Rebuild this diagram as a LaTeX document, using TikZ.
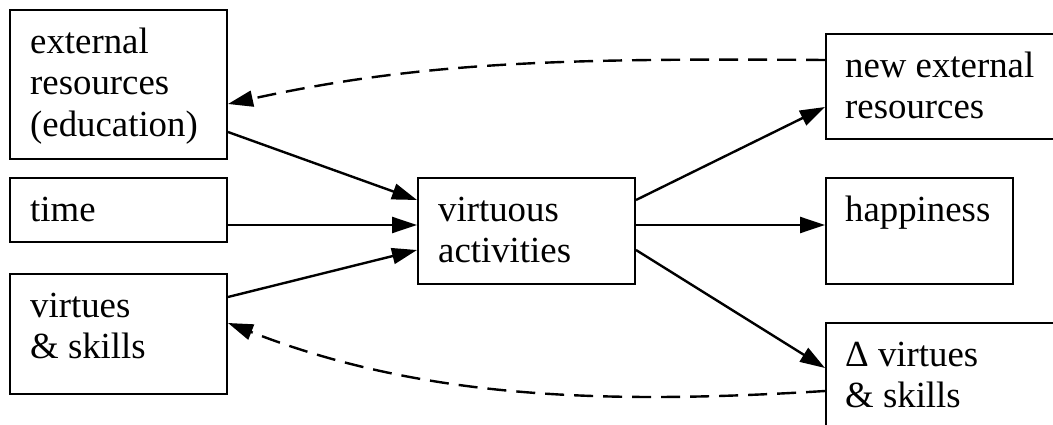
\documentclass[tikz,border=0pt]{standalone}
\usepackage{fontspec}
\setmainfont{Liberation Serif}
\usetikzlibrary{arrows.meta,calc}
\newcommand{\lbfont}{\fontsize{36.8}{41.5}\selectfont}
\newcommand{\fst}{\rule{0pt}{44pt}}
\begin{document}
\begin{tikzpicture}[x=1pt,y=-1pt,
  box/.style={draw, line width=2pt, inner sep=0pt, anchor=north west},
  lbl/.style={anchor=north west, inner sep=0pt, align=left, font=\lbfont},
  conn/.style={line width=2.4pt, -{Triangle[length=25pt,width=16pt]}},
  fb/.style={conn, dash pattern=on 19pt off 10pt}]
\useasboundingbox (0,0) rectangle (1053,425);
\clip (0,0) rectangle (1053,425);
% boxes
\node[box, minimum width=217pt, minimum height=149pt] (ext) at (9,9) {};
\node[box, minimum width=217pt, minimum height=64pt] (time) at (9,177) {};
\node[box, minimum width=217pt, minimum height=120pt] (vs) at (9,273) {};
\node[box, minimum width=217pt, minimum height=106pt] (va) at (417,177) {};
\node[box, minimum width=260pt, minimum height=105pt] (new) at (825,33) {};
\node[box, minimum width=187pt, minimum height=106pt] (hap) at (825,177) {};
\node[box, minimum width=260pt, minimum height=130pt] (dvs) at (825,322) {};
% labels
\node[lbl] (ext-t) at ($(ext.north west)+(21,0)$) {\fst external\\resources\\(education)};
\node[lbl] (time-t) at ($(time.north west)+(21,0)$) {\fst time};
\node[lbl] (vs-t) at ($(vs.north west)+(21,0)$) {\fst virtues\\\&~skills};
\node[lbl] (va-t) at ($(va.north west)+(21,0)$) {\fst virtuous\\activities};
\node[lbl] (new-t) at ($(new.north west)+(20,0)$) {\fst new external\\resources};
\node[lbl] (hap-t) at ($(hap.north west)+(20,0)$) {\fst happiness};
\node[lbl] (dvs-t) at ($(dvs.north west)+(20,0)$) {\fst Δ virtues\\\&~skills};
% connectors
\coordinate (ext-o) at ($(ext.south east)+(0,-28)$);
\coordinate (ext-i) at ($(ext.north east)+(0,95)$);
\coordinate (time-o) at ($(time.north east)+(0,48)$);
\coordinate (vs-o) at ($(vs.north east)+(0,24)$);
\coordinate (vs-i) at ($(vs.north east)+(0,50)$);
\coordinate (va-i1) at ($(va.north west)+(0,23)$);
\coordinate (va-i2) at ($(va.north west)+(0,48)$);
\coordinate (va-i3) at ($(va.north west)+(0,73)$);
\coordinate (va-o1) at ($(va.north east)+(0,23)$);
\coordinate (va-o2) at ($(va.north east)+(0,48)$);
\coordinate (va-o3) at ($(va.north east)+(0,73)$);
\coordinate (new-i) at ($(new.north west)+(0,74)$);
\coordinate (new-o) at ($(new.north west)+(0,27)$);
\coordinate (hap-i) at ($(hap.north west)+(0,48)$);
\coordinate (dvs-i) at ($(dvs.north west)+(0,46)$);
\coordinate (dvs-o) at ($(dvs.north west)+(0,69)$);
\draw[conn] (ext-o) -- (va-i1);
\draw[conn] (time-o) -- (va-i2);
\draw[conn] (vs-o) -- (va-i3);
\draw[conn] (va-o1) -- (new-i);
\draw[conn] (va-o2) -- (hap-i);
\draw[conn] (va-o3) -- (dvs-i);
\draw[fb] (new-o) .. controls (560,58) and (420,62) .. (ext-i);
\draw[fb] (dvs-o) .. controls (600,405) and (420,398) .. (vs-i);
\end{tikzpicture}
\end{document}
